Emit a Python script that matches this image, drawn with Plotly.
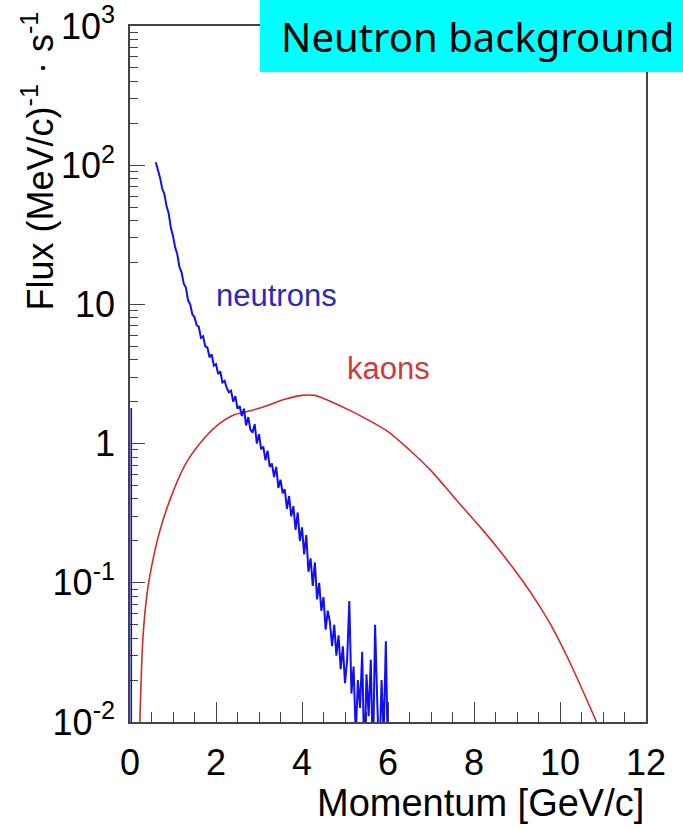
import plotly.graph_objects as go

# kaon flux, smooth curve
kaon_p = [0.23, 0.3, 0.4, 0.5, 0.7, 1.0, 1.3, 1.6, 2.0, 2.4, 2.8, 3.2, 3.6, 4.0, 4.3,
          4.6, 5.1, 5.5, 6.0, 6.5, 7.0, 7.6, 8.2, 8.6, 9.0, 9.4, 9.8, 10.2, 10.6, 10.85]
kaon_flux = [0.01, 0.04, 0.085, 0.13, 0.24, 0.45, 0.72, 0.98, 1.33, 1.6, 1.72, 1.88, 2.08, 2.22, 2.22,
             2.05, 1.74, 1.5, 1.22, 0.9, 0.64, 0.39, 0.24, 0.17, 0.117, 0.078, 0.049, 0.028, 0.015, 0.01]

# neutron flux, histogram bins of 0.05 GeV/c from 0.60 to 6.00
neutron_p = [round(0.6 + 0.05 * i, 2) for i in range(109)]
neutron_flux = [
    105, 93, 81, 68, 62, 51, 45, 35.5, 31, 25.7,
    22.9, 18.6, 17.0, 14.1, 13.2, 10.7, 10.0, 8.5, 8.1, 7.1,
    6.9, 5.75, 5.9, 5.0, 4.9, 4.17, 4.37, 3.63, 3.72, 3.16,
    3.31, 2.75, 2.82, 2.51, 2.34, 2.40, 2.0, 2.19, 1.78, 1.86,
    1.58, 1.78, 1.35, 1.55, 1.26, 1.20, 1.38, 1.0, 1.17, 0.91,
    0.95, 0.76, 0.89, 0.68, 0.72, 0.575, 0.68, 0.48, 0.55, 0.44,
    0.47, 0.34, 0.42, 0.30, 0.355, 0.24, 0.32, 0.20, 0.25, 0.16,
    0.22, 0.12, 0.15, 0.095, 0.14, 0.076, 0.10, 0.063, 0.079, 0.046,
    0.063, 0.052, 0.035, 0.05, 0.030, 0.042, 0.024, 0.035, 0.019, 0.028,
    0.074, 0.016, 0.025, 0.008, 0.02, 0.0126, 0.032, 0.005, 0.022, 0.011,
    0.028, 0.005, 0.05, 0.014, 0.005, 0.02, 0.008, 0.038, 0.005,
]
# lowest bin sitting on the y axis
neutron_p0 = [0.03, 0.03]
neutron_flux0 = [0.005, 1.8]

x_ticks = [0, 2, 4, 6, 8, 10, 12]
y_ticks = [0.01, 0.1, 1, 10, 100, 1000]
y_ticktext = ['10<sup>-2</sup>', '10<sup>-1</sup>', '1', '10', '10<sup>2</sup>', '10<sup>3</sup>']
y_minor = [d * m for d in [0.01, 0.1, 1, 10, 100] for m in range(2, 10)]

BLUE = '#1010f0'
RED = '#d42a2a'
FONT = 'Liberation Sans, Arial, sans-serif'

fig = go.Figure()
fig.add_trace(go.Scatter(x=kaon_p, y=kaon_flux, mode='lines',
                         line=dict(color=RED, width=1.6, shape='spline', smoothing=0.8),
                         showlegend=False))
fig.add_trace(go.Scatter(x=neutron_p, y=neutron_flux, mode='lines',
                         line=dict(color=BLUE, width=2), showlegend=False))
fig.add_trace(go.Scatter(x=neutron_p0, y=neutron_flux0, mode='lines',
                         line=dict(color=BLUE, width=1.6), showlegend=False))

L, R, T, B = 130, 37, 26, 107
W, H = 683, 829
pw, ph = W - L - R, H - T - B

def px(x):
    return (x - L) / pw

def py(y):
    return (H - B - y) / ph

fig.update_layout(
    width=W, height=H,
    margin=dict(l=L, r=R, t=T, b=B),
    plot_bgcolor='white', paper_bgcolor='white',
    font=dict(family=FONT, color='black'),
    xaxis=dict(range=[0, 12], tickvals=x_ticks, ticks='inside', ticklen=20, tickwidth=1,
               tickcolor='#444', showgrid=False, zeroline=False, showline=True,
               linecolor='#444', linewidth=1.5, mirror=True, layer='below traces',
               tickfont=dict(size=36), ticklabelstandoff=8, automargin=False,
               minor=dict(dtick=0.5, ticks='inside', ticklen=10, tickcolor='#444')),
    yaxis=dict(type='log', range=[-2, 3], tickvals=y_ticks, ticktext=y_ticktext,
               ticks='inside', ticklen=15, tickwidth=1, tickcolor='#444',
               showgrid=False, zeroline=False, showline=True, linecolor='#444',
               linewidth=1.5, mirror=True, layer='below traces',
               tickfont=dict(size=36), ticklabelstandoff=6, automargin=False,
               minor=dict(tickvals=y_minor, ticks='inside', ticklen=8, tickcolor='#444')),
)

# axis titles
fig.add_annotation(text='Momentum [GeV/c]', xref='paper', yref='paper',
                   x=1, y=py(803), xanchor='right', yanchor='middle',
                   showarrow=False, font=dict(size=38, color='black'))
fig.add_annotation(text='Flux (MeV/c)<sup>-1</sup> · s<sup>-1</sup>', xref='paper', yref='paper',
                   x=px(37), y=py(10), xanchor='center', yanchor='top', textangle=-90,
                   showarrow=False, font=dict(size=36, color='black'))

# curve labels
fig.add_annotation(text='neutrons', xref='paper', yref='paper', x=px(214), y=py(295),
                   xanchor='left', yanchor='middle', showarrow=False,
                   font=dict(size=31, color='#2a2ab8'))
fig.add_annotation(text='kaons', xref='paper', yref='paper', x=px(345), y=py(368),
                   xanchor='left', yanchor='middle', showarrow=False,
                   font=dict(size=31, color='#d03a3a'))

# cyan title box
fig.add_shape(type='rect', xref='paper', yref='paper', x0=px(260), x1=px(683),
              y0=py(72), y1=py(0), fillcolor='#00ffff', line=dict(width=0), layer='above')
fig.add_annotation(text='Neutron background', xref='paper', yref='paper',
                   x=px(477), y=py(37), xanchor='center', yanchor='middle', showarrow=False,
                   font=dict(family='Noto Sans, Open Sans, sans-serif', size=40, color='black'))

# page body has an 8px default margin, drop it so the figure sits at the window corner
fig.write_html('out.html', config={'displayModeBar': False},
               post_script="document.body.style.margin='0';document.body.style.overflow='hidden';")
